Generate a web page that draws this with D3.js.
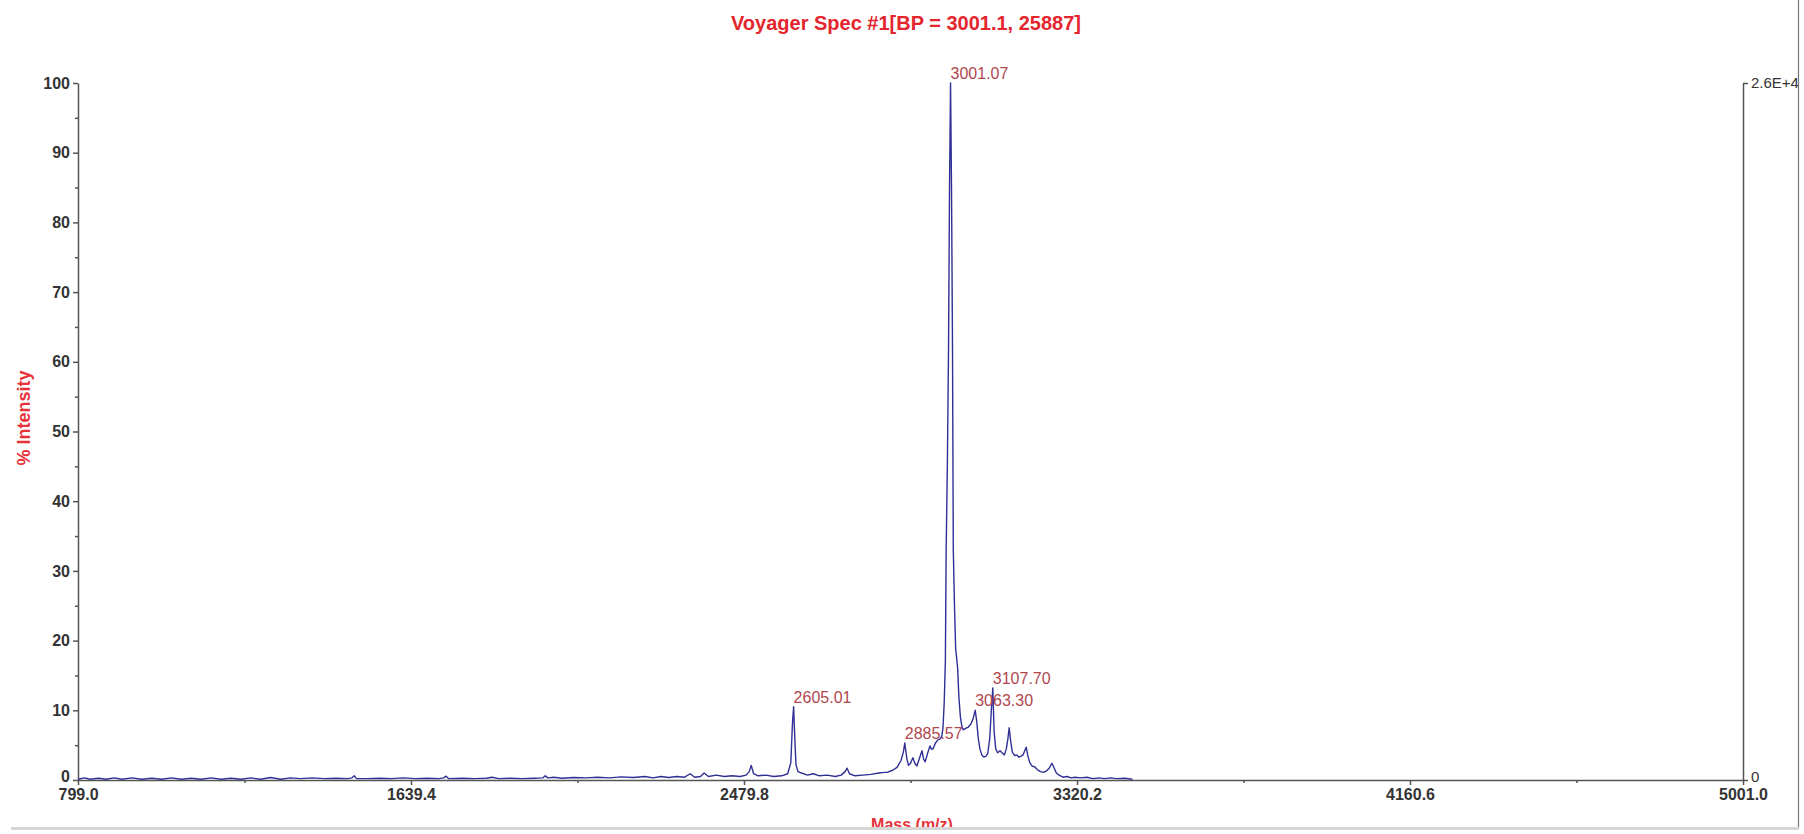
<!DOCTYPE html>
<html>
<head>
<meta charset="utf-8">
<script src="https://cdn.jsdelivr.net/npm/d3@7"></script>
<style>
  body { margin: 0; background: #fff; }
  svg { display: block; font-family: "Liberation Sans", Arial, sans-serif; }
  .axis path, .axis line { stroke: #555; stroke-width: 1.5; }
  .axis text { fill: #333; font-size: 16px; font-weight: bold; }
  .axis--r text { font-weight: normal; font-size: 15px; }
  .minor line { stroke: #555; stroke-width: 1.5; }
  .title { fill: #e3252e; font-size: 20px; font-weight: bold; }
  .axistitle { fill: #e8323a; font-weight: bold; }
  .peaklabel { fill: #b0474d; font-size: 16px; }
</style>
</head>
<body>
<div id="chart"></div>
<script>
// DATA  (mass, % intensity)
var lowMass = [
  [799, 0.1], [815, 0.3], [830, 0.1], [850, 0.25], [870, 0.1], [890, 0.3], [910, 0.1], [935, 0.3],
  [960, 0.1], [985, 0.25], [1010, 0.1], [1035, 0.3], [1060, 0.1], [1085, 0.25], [1110, 0.1],
  [1135, 0.3], [1160, 0.1], [1185, 0.25], [1210, 0.1], [1235, 0.3], [1260, 0.1], [1285, 0.35],
  [1310, 0.1], [1335, 0.3], [1360, 0.2], [1390, 0.3], [1420, 0.2], [1450, 0.25], [1480, 0.2],
  [1490, 0.3], [1496, 0.6], [1502, 0.2], [1530, 0.2], [1560, 0.25], [1590, 0.2], [1620, 0.3],
  [1650, 0.2], [1680, 0.25], [1710, 0.2], [1722, 0.3], [1728, 0.55], [1734, 0.2], [1770, 0.25],
  [1800, 0.2], [1830, 0.25], [1844, 0.4], [1860, 0.2], [1890, 0.25], [1920, 0.2], [1950, 0.25],
  [1972, 0.3], [1978, 0.6], [1985, 0.3], [2000, 0.4], [2020, 0.25], [2050, 0.35], [2080, 0.3],
  [2110, 0.4], [2140, 0.3], [2170, 0.45], [2200, 0.35], [2230, 0.5], [2250, 0.3], [2270, 0.5],
  [2290, 0.35], [2310, 0.5], [2330, 0.4], [2344, 0.9], [2355, 0.4], [2370, 0.5], [2379, 1.0],
  [2390, 0.5], [2410, 0.7], [2430, 0.5], [2450, 0.6], [2470, 0.5], [2485, 0.7], [2493, 1.2],
  [2498, 2.1], [2504, 0.9], [2515, 0.6], [2535, 0.7], [2555, 0.5], [2575, 0.6], [2590, 0.9],
  [2598, 2.5], [2602, 8], [2605.01, 10.5], [2608, 6], [2611, 2.2], [2616, 1.2], [2625, 1.0],
  [2640, 0.7], [2655, 0.9], [2670, 0.6], [2690, 0.7], [2710, 0.5], [2725, 0.7], [2735, 1.2],
  [2740, 1.7], [2746, 0.9], [2760, 0.6], [2780, 0.7], [2800, 0.8], [2820, 1.0], [2835, 1.1]
];

var mainCluster = [
  [2841, 1.1], [2855, 1.4], [2866, 1.8], [2876, 2.8], [2882, 4.0], [2885.57, 5.3], [2891, 3.0],
  [2895, 2.1], [2900, 2.4], [2906, 3.2], [2911, 2.4], [2916, 2.0], [2922, 3.0], [2929, 4.2],
  [2933, 3.0], [2937, 2.6], [2943, 3.8], [2949, 4.9], [2953, 4.4], [2957, 4.5], [2963, 5.3],
  [2970, 5.8], [2975, 5.9], [2979, 6.3], [2982, 7.5], [2985, 11], [2988, 17], [2990, 33],
  [2993, 45], [2996, 62], [2998.5, 85], [3001.07, 100], [3003.5, 85], [3006, 62], [3008, 33],
  [3011, 25], [3014, 18.8], [3016, 17.8], [3019, 16], [3022, 12], [3026, 9], [3030, 7.6],
  [3033, 7.2], [3039, 7.4], [3046, 7.6], [3052, 8.0], [3058, 8.8], [3063.3, 10], [3067, 8.5],
  [3071, 6.0], [3075, 4.5], [3080, 3.6], [3085, 3.3], [3090, 3.4], [3095, 3.8], [3100, 6],
  [3104, 10], [3107.7, 13.2], [3111, 7], [3115, 4.5], [3120, 3.9], [3126, 4.2], [3131, 3.9],
  [3137, 3.6], [3142, 4.5], [3146, 6], [3149, 7.5], [3153, 5.5], [3157, 4.0], [3163, 3.5],
  [3168, 3.6], [3173, 3.3], [3178, 3.4], [3184, 3.6], [3189, 4.3], [3192, 4.7], [3196, 3.5],
  [3201, 2.5], [3207, 2.0], [3213, 1.9], [3220, 1.5], [3228, 1.2], [3236, 1.1], [3243, 1.3],
  [3250, 1.7], [3257, 2.4], [3262, 1.8], [3268, 1.0], [3275, 0.7], [3285, 0.4], [3295, 0.5],
  [3305, 0.3], [3315, 0.4], [3330, 0.3], [3345, 0.4], [3360, 0.2], [3375, 0.3], [3390, 0.2],
  [3405, 0.3], [3420, 0.2], [3440, 0.25], [3460, 0.1]
];

var peakMass = [2605.01, 2885.57, 3001.07, 3063.30, 3107.70];
var peakIntensity = [10.5, 5.3, 100, 10, 13.2];

var xTicks = [799.0, 1639.4, 2479.8, 3320.2, 4160.6, 5001.0];
var yTicks = [0, 10, 20, 30, 40, 50, 60, 70, 80, 90, 100];
var basePeakCounts = 25887;

var W = 1804, H = 834;
var margin = { top: 83, right: 61, bottom: 54, left: 78 };
var width = W - margin.left - margin.right;
var height = H - margin.top - margin.bottom;

var svg = d3.select('#chart').append('svg')
  .attr('width', W)
  .attr('height', H);

var g = svg.append('g')
  .attr('transform', 'translate(' + margin.left + ',' + margin.top + ')');

//SCALES
var x = d3.scaleLinear().domain([799, 5001]).range([0, width]);
var y = d3.scaleLinear().domain([0, 100]).range([height, 0]);
var yR = d3.scaleLinear().domain([0, basePeakCounts]).range([height, 0]);

//TITLE
svg.append('text')
  .attr('class', 'title')
  .attr('x', 906)
  .attr('y', 30)
  .attr('text-anchor', 'middle')
  .text('Voyager Spec #1[BP = 3001.1, 25887]');

//AXES
var minorX = d3.range(xTicks.length - 1).map(function (i) { return (xTicks[i] + xTicks[i + 1]) / 2; });
var minorY = d3.range(5, 100, 10);

g.append('g')
  .attr('class', 'minor')
  .attr('transform', 'translate(0,' + height + ')')
  .call(d3.axisBottom(x).tickValues(minorX).tickSize(3).tickFormat(''))
  .select('.domain').remove();

g.append('g')
  .attr('class', 'minor')
  .call(d3.axisLeft(y).tickValues(minorY).tickSize(3).tickFormat(''))
  .select('.domain').remove();

g.append('g')
  .attr('class', 'axis axis--x')
  .attr('transform', 'translate(0,' + height + ')')
  .call(d3.axisBottom(x).tickValues(xTicks).tickSize(5).tickSizeOuter(0).tickPadding(4)
    .tickFormat(d3.format('.1f')));

g.append('g')
  .attr('class', 'axis axis--y')
  .call(d3.axisLeft(y).tickValues(yTicks).tickSize(5).tickSizeOuter(0).tickPadding(3));

g.append('g')
  .attr('class', 'axis axis--r')
  .attr('transform', 'translate(' + width + ',0)')
  .call(d3.axisRight(yR).tickValues([0, basePeakCounts]).tickSize(5).tickSizeOuter(0).tickPadding(3)
    .tickFormat(function (d) { return d === 0 ? '0' : d3.format('.1e')(d).toUpperCase(); }));

// nudge the two "0" labels up a little so they sit clear of the mass labels
g.selectAll('.axis--y .tick text, .axis--r .tick text')
  .filter(function (d) { return d === 0; })
  .attr('dy', '0.1em');

//AXIS TITLES
svg.append('text')
  .attr('class', 'axistitle')
  .attr('transform', 'translate(30,418) rotate(-90)')
  .attr('text-anchor', 'middle')
  .style('font-size', '18px')
  .text('% Intensity');

svg.append('text')
  .attr('class', 'axistitle')
  .attr('x', 912)
  .attr('y', 830)
  .attr('text-anchor', 'middle')
  .style('font-size', '16px')
  .text('Mass (m/z)');

//SPECTRUM
var spectrum = lowMass.concat(mainCluster);

var line = d3.line()
  .x(function (d) { return x(d[0]); })
  .y(function (d) { return y(d[1]); });

g.append('path')
  .datum(spectrum)
  .attr('fill', 'none')
  .attr('stroke', '#2f2f95')
  .attr('stroke-width', 1.4)
  .attr('stroke-linejoin', 'round')
  .attr('d', line);

//PEAK LABELS
g.selectAll('.peaklabel')
  .data(peakMass)
  .enter().append('text')
  .attr('class', 'peaklabel')
  .attr('x', function (d) { return x(d); })
  .attr('y', function (d, i) { return y(peakIntensity[i]) - 4; })
  .text(function (d) { return d3.format('.2f')(d); });

//FRAME
svg.append('rect')
  .attr('x', 1799).attr('y', 0)
  .attr('width', 5).attr('height', H)
  .attr('fill', '#fff');

svg.append('line')
  .attr('x1', 1798.5).attr('x2', 1798.5)
  .attr('y1', 0).attr('y2', 829)
  .attr('stroke', '#777')
  .attr('stroke-width', 1.2);

svg.append('rect')
  .attr('x', 11).attr('y', 827)
  .attr('width', 1788).attr('height', 3)
  .attr('fill', '#d6d6d6');

svg.append('rect')
  .attr('x', 0).attr('y', 830)
  .attr('width', W).attr('height', 4)
  .attr('fill', '#fff');
</script>
</body>
</html>
